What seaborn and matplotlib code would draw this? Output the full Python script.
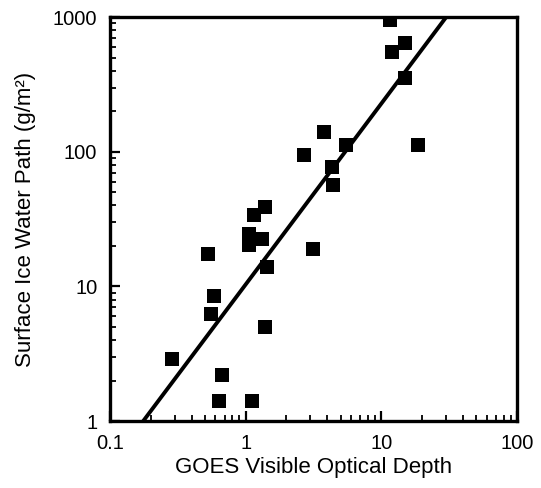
import matplotlib
matplotlib.use("Agg")
import matplotlib.pyplot as plt
from matplotlib.ticker import FuncFormatter, LogLocator, NullFormatter
import numpy as np
import pandas as pd
import seaborn as sns

# GOES visible optical depth vs. surface ice water path
optical_depth = [11.5, 15.0, 11.9, 14.8, 3.8, 5.5, 4.3, 4.4, 2.7, 18.7,
                 1.39, 1.15, 1.06, 1.31, 1.06, 0.53, 3.15, 1.44, 0.59, 0.56,
                 1.39, 0.285, 0.67, 0.64, 1.11]
ice_water_path = [950, 637, 555, 350, 141, 112, 77, 57, 94, 112,
                  39, 34, 24.7, 22.7, 20.3, 17.4, 18.9, 14.0, 8.5, 6.2,
                  5.0, 2.9, 2.2, 1.4, 1.4]

# fitted power-law line, endpoints
fit_x = [0.176, 30.0]
fit_y = [1.0, 1000.0]

df = pd.DataFrame({"tau": optical_depth, "iwp": ice_water_path})
fit = pd.DataFrame({"tau": fit_x, "iwp": fit_y})

sns.set_style("ticks")
plt.rcParams["font.family"] = ["Liberation Sans", "DejaVu Sans"]
plt.rcParams.update({"text.color": "black", "axes.labelcolor": "black",
                     "xtick.color": "black", "ytick.color": "black"})

fig = plt.figure(figsize=(5.41, 4.88), dpi=100)
ax = fig.add_axes([0.203, 0.137, 0.753, 0.828])

sns.lineplot(data=fit, x="tau", y="iwp", color="black", linewidth=2.8, ax=ax)
sns.scatterplot(data=df, x="tau", y="iwp", marker="s", s=100, color="black",
                edgecolor="black", linewidth=0, ax=ax, zorder=3)

ax.set_xscale("log")
ax.set_yscale("log")
ax.set_xlim(0.1, 100)
ax.set_ylim(1, 1000)

fmt = FuncFormatter(lambda v, _: f"{v:g}")
ax.xaxis.set_major_formatter(fmt)
ax.yaxis.set_major_formatter(fmt)
ax.xaxis.set_minor_locator(LogLocator(base=10, subs=np.arange(2, 10)))
ax.yaxis.set_minor_locator(LogLocator(base=10, subs=np.arange(2, 10)))
ax.xaxis.set_minor_formatter(NullFormatter())
ax.yaxis.set_minor_formatter(NullFormatter())

ax.tick_params(which="major", direction="in", length=7, width=1.6,
               labelsize=14.5, pad=9, colors="black")
ax.tick_params(which="minor", direction="in", length=4, width=1.3)
for side in ax.spines.values():
    side.set_linewidth(2.4)
    side.set_color("black")

ax.set_xlabel("GOES Visible Optical Depth", fontsize=16, labelpad=3)
ax.set_ylabel("Surface Ice Water Path (g/m²)", fontsize=16, labelpad=12)

fig.savefig("out.png", dpi=100)
